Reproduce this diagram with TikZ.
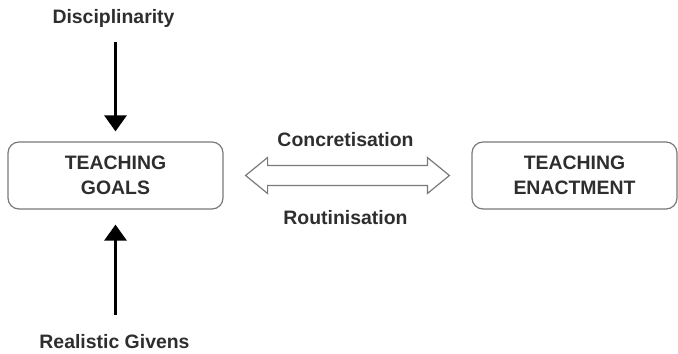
\documentclass[tikz,border=0pt]{standalone}
\usepackage{fontspec}
\setmainfont{Liberation Sans}
\usepackage{tikz}
\usetikzlibrary{calc,arrows.meta,positioning}
\definecolor{ink}{HTML}{2E2E2E}
\definecolor{rim}{HTML}{7A7A7A}

\begin{document}
\begin{tikzpicture}[font=\fontsize{19.5}{25}\selectfont\bfseries, text=ink,
	box/.style={draw=rim, line width=1.2bp, rounded corners=11bp, minimum height=67bp, align=center, inner sep=0},
	word/.style={inner sep=0, anchor=base},
	push/.style={line width=3bp, -{Triangle[length=16bp, width=22bp]}},
	hollow/.style={draw=rim, line width=1.2bp, fill=white, line join=miter}]
	\useasboundingbox (0bp, 0bp) rectangle (678bp, 354bp);

	\node (goals) at (115.5bp, 178.5bp) [box, minimum width=215bp] {TEACHING\\GOALS};
	\node (enact) at (574.5bp, 178.5bp) [box, minimum width=205bp] {TEACHING\\ENACTMENT};

	\node (disc) at (113.5bp, 330bp) [word] {Disciplinarity};
	\node (giv) at (114.5bp, 6bp) [word] {Realistic Givens};

	% hollow two-way arrow between the boxes
	\coordinate (lt) at ($(goals.east)+(22bp,0)$);
	\coordinate (rt) at ($(enact.west)+(-22bp,0)$);
	\draw [hollow] (lt) -- ++(22bp,18bp) -- ++(0,-8bp) -- ($(rt)+(-22bp,10bp)$) -- ++(0,8bp) -- (rt)
		-- ++(-22bp,-18bp) -- ++(0,8bp) -- ($(lt)+(22bp,-10bp)$) -- ++(0,-8bp) -- cycle;
	\node (conc) at (345.5bp, 207bp) [word] {Concretisation};
	\node (rout) at (345.5bp, 129bp) [word] {Routinisation};

	\draw [push, shorten <=14bp, shorten >=10bp] (disc.south -| goals.north) -- (goals.north);
	\draw [push, shorten <=19bp, shorten >=15bp] (giv.north -| goals.south) -- (goals.south);
\end{tikzpicture}
\end{document}
